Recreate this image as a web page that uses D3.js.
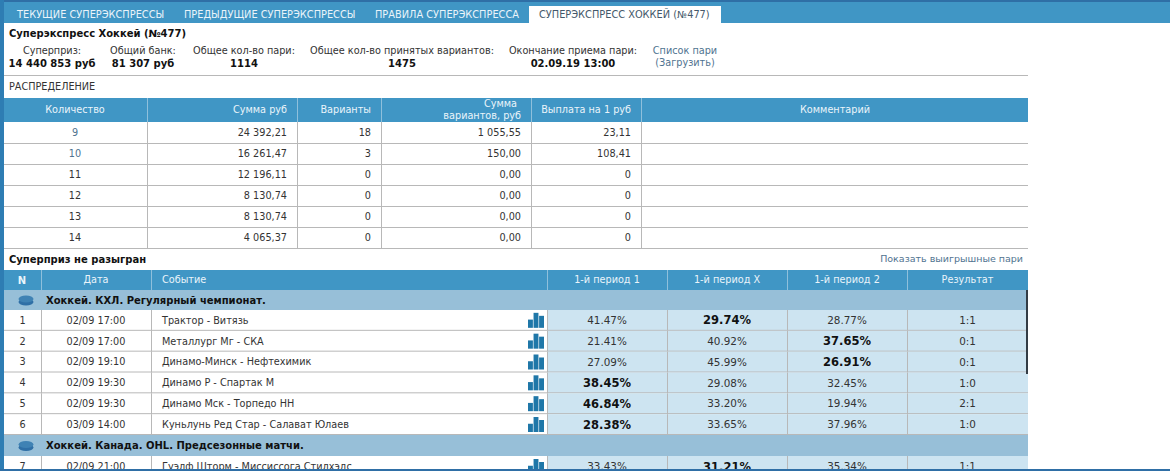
<!DOCTYPE html>
<html>
<head>
<meta charset="utf-8">
<script src="https://cdn.jsdelivr.net/npm/d3@7"></script>
<style>
html, body { margin: 0; padding: 0; background: #fff; overflow: hidden; }
svg { display: block; font-family: "DejaVu Sans", sans-serif; font-size: 9.7px; }
</style>
</head>
<body>
<div id="chart"></div>
<script>
const width = 1170;
const height = 471;

// Tabs and summary
const tabLabels = ["ТЕКУЩИЕ СУПЕРЭКСПРЕССЫ", "ПРЕДЫДУЩИЕ СУПЕРЭКСПРЕССЫ", "ПРАВИЛА СУПЕРЭКСПРЕССА", "СУПЕРЭКСПРЕСС ХОККЕЙ (№477)"];
const statLabels = ["Суперприз:", "Общий банк:", "Общее кол-во пари:", "Общее кол-во принятых вариантов:", "Окончание приема пари:"];
const statValues = ["14 440 853 руб", "81 307 руб", "1114", "1475", "02.09.19 13:00"];

// Distribution table
const distHeaders = ["Количество", "Сумма руб", "Варианты", "Сумма", "Выплата на 1 руб", "Комментарий"];
const distCounts = [9, 10, 11, 12, 13, 14];
const distSums = ["24 392,21", "16 261,47", "12 196,11", "8 130,74", "8 130,74", "4 065,37"];
const distVariants = [18, 3, 0, 0, 0, 0];
const distVariantSums = ["1 055,55", "150,00", "0,00", "0,00", "0,00", "0,00"];
const distPayouts = ["23,11", "108,41", "0", "0", "0", "0"];

// Events table
const eventHeaders = ["N", "Дата", "Событие", "1-й период 1", "1-й период X", "1-й период 2", "Результат"];
const leagueNames = ["Хоккей. КХЛ. Регулярный чемпионат.", "Хоккей. Канада. OHL. Предсезонные матчи."];
const eventDates = ["02/09 17:00", "02/09 17:00", "02/09 19:10", "02/09 19:30", "02/09 19:30", "03/09 14:00", "02/09 21:00"];
const eventNames = ["Трактор - Витязь", "Металлург Мг - СКА", "Динамо-Минск - Нефтехимик", "Динамо Р - Спартак М", "Динамо Мск - Торпедо НН", "Куньлунь Ред Стар - Салават Юлаев", "Гуэлф Шторм - Миссиссога Стилхэдс"];
const period1 = [41.47, 21.41, 27.09, 38.45, 46.84, 28.38, 33.43];
const periodX = [29.74, 40.92, 45.99, 29.08, 33.20, 33.65, 31.21];
const period2 = [28.77, 37.65, 26.91, 32.45, 19.94, 37.96, 35.34];
const boldColumn = [1, 2, 2, 0, 0, 0, 1];
const results = ["1:1", "0:1", "0:1", "1:0", "2:1", "1:0", "1:1"];
const iconBars = [0.55, 1, 0.8];

const headBlue = "#4096c5";
const darkBlue = "#2f6fa6";
const lineGray = "#b8b8b8";
const textDark = "#222";
const linkBlue = "#4f7390";

const svg = d3.select("#chart").append("svg")
    .attr("width", width)
    .attr("height", height);

svg.append("rect").attr("width", width).attr("height", height).attr("fill", "#fff");

// Helper to add one text label
function label(x, y, text, anchor, color, bold) {
    return svg.append("text")
        .attr("x", x)
        .attr("y", y)
        .attr("dy", "0.35em")
        .attr("text-anchor", anchor || "start")
        .attr("fill", color || textDark)
        .attr("font-weight", bold ? "bold" : "normal")
        .attr("font-size", bold ? "10px" : null)
        .text(text);
}

function band(x0, y0, x1, y1, color) {
    svg.append("rect").attr("x", x0).attr("y", y0).attr("width", x1 - x0).attr("height", y1 - y0).attr("fill", color);
}

function hLine(x0, x1, y, color) {
    svg.append("line").attr("x1", x0).attr("x2", x1).attr("y1", y + 0.5).attr("y2", y + 0.5)
        .attr("stroke", color || lineGray);
}

function vLine(x, y0, y1, color) {
    svg.append("line").attr("x1", x + 0.5).attr("x2", x + 0.5).attr("y1", y0).attr("y2", y1)
        .attr("stroke", color || lineGray);
}

// Top bar and tabs
band(0, 0, width, 2, darkBlue);
band(0, 2, width, 23, headBlue);
band(529, 6, 721, 23, "#fff");
const tabX = [17, 184, 375, 539];
tabLabels.forEach((t, i) => label(tabX[i], 15, t, "start", i === 3 ? "#44586a" : "#eaf4fa").attr("font-size", "9.8px"));

// Summary block
label(9, 33, "Суперэкспресс Хоккей (№477)", "start", "#111", true);
const statX = [52, 143, 244, 402, 573];
statLabels.forEach((t, i) => label(statX[i], 51, t, "middle", "#333"));
statValues.forEach((t, i) => label(statX[i], 63, t, "middle", "#111", true));
label(685, 51, "Список пари", "middle", linkBlue);
label(685, 63, "(Загрузить)", "middle", linkBlue);
hLine(4, 1028, 75);
label(9, 87, "РАСПРЕДЕЛЕНИЕ", "start", "#333");

// Distribution table
const distY = d3.scaleLinear().domain([0, 6]).range([122, 248]);
const distEdges = [4, 147, 297, 381, 531, 641, 1028];
band(4, 98, 1028, 122, headBlue);
distEdges.slice(1, -1).forEach(x => vLine(x, 98, 248, null));
distEdges.slice(1, -1).forEach(x => vLine(x, 98, 122, "#8fc0dc"));
label(75, 110, distHeaders[0], "middle", "#eaf4fa");
label(287, 110, distHeaders[1], "end", "#eaf4fa");
label(371, 110, distHeaders[2], "end", "#eaf4fa");
label(517, 104, distHeaders[3], "end", "#eaf4fa");
label(521, 116, "вариантов, руб", "end", "#eaf4fa");
label(631, 110, distHeaders[4], "end", "#eaf4fa");
label(835, 110, distHeaders[5], "middle", "#eaf4fa");

distCounts.forEach((c, i) => {
    const cy = (distY(i) + distY(i + 1)) / 2;
    hLine(4, 1028, distY(i + 1));
    label(75, cy, c, "middle", i < 2 ? linkBlue : "#333");
    label(287, cy, distSums[i], "end", "#333");
    label(371, cy, distVariants[i], "end", "#333");
    label(521, cy, distVariantSums[i], "end", "#333");
    label(631, cy, distPayouts[i], "end", "#333");
});

label(9, 259, "Суперприз не разыгран", "start", "#111", true);
label(1023, 259, "Показать выигрышные пари", "end", linkBlue).attr("font-size", "9.5px");

// Events table
const eventEdges = [4, 41, 151, 547, 667, 787, 907, 1028];
const colCenter = i => (eventEdges[i] + eventEdges[i + 1]) / 2;
const rowY = d3.scaleLinear().domain([0, 6]).range([310, 435]);
const iconX = d3.scaleBand().domain(d3.range(iconBars.length)).range([528, 544]).paddingInner(0.12);
const iconH = d3.scaleLinear().domain([0, 1]).range([0, 15]);

band(4, 270, 1028, 290, headBlue);
eventEdges.slice(1, -1).forEach(x => vLine(x, 270, 290, "#8fc0dc"));
label(colCenter(0) - 0.5, 280, eventHeaders[0], "middle", "#eaf4fa", true);
label(colCenter(1), 280, eventHeaders[1], "middle", "#eaf4fa");
label(162, 280, eventHeaders[2], "start", "#eaf4fa");
[3, 4, 5, 6].forEach(i => label(colCenter(i), 280, eventHeaders[i], "middle", "#eaf4fa"));

function leagueRow(y0, y1, name) {
    band(4, y0, 1028, y1, "#97bfd8");
    const cx = 26, cy = (y0 + y1) / 2;
    svg.append("ellipse").attr("cx", cx).attr("cy", cy + 2).attr("rx", 7.5).attr("ry", 3.5).attr("fill", "#2f6fa6");
    svg.append("ellipse").attr("cx", cx).attr("cy", cy - 1).attr("rx", 7.5).attr("ry", 3.5).attr("fill", "#3f82b4");
    label(46, cy, name, "start", "#111", true);
}

function eventRow(i, y0, y1) {
    const cy = (y0 + y1) / 2;
    band(547, y0, 1028, y1, "#cde4f1");
    hLine(4, 1028, y1 - 1);
    eventEdges.slice(1, -1).forEach(x => vLine(x, y0, y1, null));
    label(colCenter(0), cy, i + 1, "middle", "#333");
    label(colCenter(1), cy, eventDates[i], "middle", "#333");
    label(162, cy, eventNames[i], "start", "#333");
    [period1, periodX, period2].forEach((vals, k) => {
        const bold = boldColumn[i] === k;
        label(colCenter(3 + k), cy, vals[i].toFixed(2) + "%", "middle", bold ? "#111" : "#333", bold)
            .attr("font-size", bold ? "11.5px" : "10.4px");
    });
    label(colCenter(6), cy, results[i], "middle", "#333").attr("font-size", "10.4px");
    iconBars.forEach((h, k) => {
        svg.append("rect")
            .attr("x", iconX(k))
            .attr("y", y1 - 3 - iconH(h))
            .attr("width", iconX.bandwidth())
            .attr("height", iconH(h))
            .attr("fill", "#1f77a8");
    });
}

leagueRow(290, 310, leagueNames[0]);
d3.range(6).forEach(i => eventRow(i, rowY(i), rowY(i + 1)));
leagueRow(435, 456, leagueNames[1]);
eventRow(6, 456, 477);

// Dark scroll marker on the right of the events table
svg.append("rect").attr("x", 1026).attr("y", 290).attr("width", 2).attr("height", 84).attr("fill", "#333c45");

// Page frame on top
band(0, 0, 4, height, "#2e7db3");
band(0, 469, width, 471, darkBlue);
</script>
</body>
</html>
